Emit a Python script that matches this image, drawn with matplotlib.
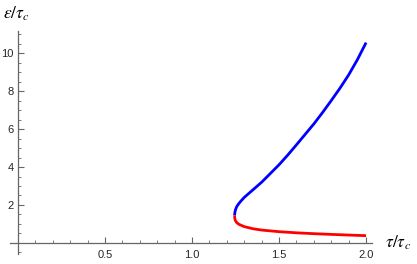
import matplotlib
matplotlib.use("Agg")
import matplotlib.pyplot as plt
from matplotlib.ticker import MultipleLocator

# upper branch (blue)
blue_x = [1.2445, 1.246, 1.250, 1.256, 1.265, 1.28, 1.30, 1.35, 1.40, 1.45, 1.50,
          1.55, 1.60, 1.65, 1.70, 1.75, 1.80, 1.85, 1.90, 1.95, 2.00]
blue_y = [1.45, 1.60, 1.76, 1.90, 2.03, 2.20, 2.40, 2.80, 3.20, 3.66, 4.12,
          4.63, 5.17, 5.72, 6.27, 6.87, 7.50, 8.15, 8.85, 9.65, 10.55]

# lower branch (red)
red_x = [1.2445, 1.2455, 1.249, 1.257, 1.27, 1.30, 1.35, 1.40, 1.50, 1.60,
         1.70, 1.80, 1.90, 2.00]
red_y = [1.45, 1.30, 1.18, 1.07, 0.98, 0.86, 0.75, 0.68, 0.595, 0.535,
         0.49, 0.452, 0.418, 0.385]

x_ticks = [0.5, 1.0, 1.5, 2.0]
y_ticks = [2, 4, 6, 8, 10]

plt.rcParams['mathtext.fontset'] = 'stix'
plt.rcParams['font.family'] = ['Liberation Sans', 'DejaVu Sans']

fig = plt.figure(figsize=(4.17, 2.64), dpi=100)
ax = fig.add_axes([10 / 417, 10 / 264, 362 / 417, 223 / 264])

ax.plot(blue_x, blue_y, color=(0, 0, 1), lw=2.0, solid_capstyle='butt')
ax.plot(red_x, red_y, color=(1, 0, 0), lw=2.0, solid_capstyle='butt')

ax.set_xlim(-0.046, 2.034)
ax.set_ylim(-0.58, 11.16)

axc = '0.4'
for s in ['top', 'right']:
    ax.spines[s].set_visible(False)
ax.spines['left'].set_position(('data', 0))
ax.spines['bottom'].set_position(('data', 0))
for s in ['left', 'bottom']:
    ax.spines[s].set_color(axc)
    ax.spines[s].set_linewidth(0.9)

ax.set_xticks(x_ticks)
ax.set_xticklabels([f'{v:.1f}' for v in x_ticks])
ax.set_yticks(y_ticks)
ax.set_yticklabels([str(v) for v in y_ticks])
ax.xaxis.set_minor_locator(MultipleLocator(0.1))
ax.yaxis.set_minor_locator(MultipleLocator(0.5))
ax.tick_params(which='major', direction='in', length=4, width=0.8, color=axc,
               labelsize=8, labelcolor='0.15', pad=3)
ax.tick_params(which='minor', direction='in', length=2, width=0.6, color=axc)
ax.tick_params(axis='x', which='major', pad=5)

fig.text(3 / 417, 1 - 14 / 264, r'$\varepsilon/\tau_c$', fontsize=12.5, va='center', ha='left')
fig.text(385 / 417, 1 - 243 / 264, r'$\tau/\tau_c$', fontsize=12.5, va='center', ha='left')

fig.savefig('out.png', dpi=100)
